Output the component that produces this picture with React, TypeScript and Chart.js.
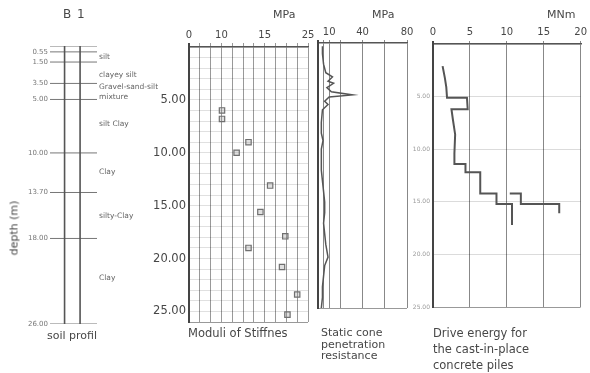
import React, { useEffect, useRef } from 'react';
import { Chart, registerables } from 'chart.js';
Chart.register(...registerables);

const FONT = 'DejaVu Sans';
const INK = '#474747';

// ---- soil profile (B 1) ----
const soilBoundaryDepths = [0, 0.55, 1.5, 3.5, 5.0, 10.0, 13.7, 18.0, 26.0];
const soilBoundaryLabels = ['', '0.55', '1.50', '3.50', '5.00', '10.00', '13.70', '18.00', '26.00'];
const soilLayerNames = ['silt', 'clayey silt', 'Gravel-sand-silt', 'mixture', 'silt Clay', 'Clay', 'silty-Clay', 'Clay'];
const soilLayerNameDepths = [1.05, 2.75, 3.85, 4.8, 7.3, 11.8, 15.9, 21.7];

// ---- moduli of stiffness ----
const modTickLabels = ['0', '', '', '10', '', '', '', '15', '', '', '', '25'];
const modDepths = [6.0, 6.8, 9.0, 10.0, 13.1, 15.6, 17.9, 19.0, 20.8, 23.4, 25.3];
const modValues = [3.05, 3.05, 5.5, 4.4, 7.5, 6.6, 8.9, 5.5, 8.6, 10.0, 9.1];

// ---- static cone penetration resistance (MPa) ----
const coneGridValues = [0, 5, 10, 20, 40, 60, 80];
const coneTickLabels = ['', '', '10', '', '40', '', '80'];
const coneDepths = [0.3, 1.0, 2.0, 2.8, 3.2, 3.6, 3.8, 4.2, 4.6, 4.9, 5.1, 5.5, 5.8, 6.3, 7.5, 8.5, 9.2, 10, 11, 12, 13, 14, 15, 16, 17, 18, 19, 20.2, 21, 22, 23, 24, 25];
const coneValues = [4, 4, 5, 7, 13, 9, 14, 8, 12, 31, 10, 6, 9, 4, 3, 3, 4.5, 3, 3, 3, 4, 5, 6, 6, 5, 6, 7, 9, 6, 5, 4, 4, 3];

// ---- drive energy (MNm) ----
const driveDepthsA = [2.1, 3.2, 4.1, 5.1, 5.1, 6.2, 6.2, 7.2, 8.6, 10.4, 11.4, 11.4, 12.2, 12.2, 14.2, 14.2, 15.2, 15.2, 17.2];
const driveEnergyA = [1.3, 1.6, 1.8, 1.9, 4.6, 4.7, 2.5, 2.7, 3.0, 2.9, 2.9, 4.4, 4.4, 6.4, 6.4, 8.6, 8.6, 10.7, 10.7];
const driveDepthsB = [14.2, 14.2, 15.2, 15.2, 16.1];
const driveEnergyB = [10.4, 11.9, 11.9, 17.1, 17.1];

const pts = (xs: number[], ys: number[]) => xs.map((x, i) => ({ x, y: ys[i] }));

const soilTextPlugin = {
  id: 'soilText',
  afterDatasetsDraw(chart: any) {
    const { ctx } = chart;
    const x = chart.scales.x;
    const y = chart.scales.y;
    ctx.save();
    ctx.fillStyle = '#777';
    ctx.textBaseline = 'middle';
    ctx.font = `7px ${FONT}`;
    ctx.textAlign = 'right';
    soilBoundaryDepths.forEach((d, i) => {
      ctx.fillText(soilBoundaryLabels[i], x.getPixelForValue(0) - 2, y.getPixelForValue(d));
    });
    ctx.textAlign = 'left';
    ctx.font = `7.5px ${FONT}`;
    ctx.fillStyle = '#666';
    soilLayerNames.forEach((n, i) => {
      ctx.fillText(n, x.getPixelForValue(1) + 2, y.getPixelForValue(soilLayerNameDepths[i]));
    });
    ctx.restore();
  },
};

const Txt = (p: { l: number; t: number; s: number; lh?: number; children: any; style?: any }) => (
  <div
    style={{
      position: 'absolute', left: p.l, top: p.t, fontSize: p.s, lineHeight: (p.lh ?? p.s + 2) + 'px',
      fontFamily: FONT, color: INK, whiteSpace: 'pre', ...p.style,
    }}
  >
    {p.children}
  </div>
);

export default function App() {
  const soilRef = useRef<HTMLCanvasElement>(null);
  const modRef = useRef<HTMLCanvasElement>(null);
  const coneRef = useRef<HTMLCanvasElement>(null);
  const driveRef = useRef<HTMLCanvasElement>(null);

  useEffect(() => {
    Chart.defaults.font.family = FONT;
    Chart.defaults.color = INK;
    const noPlug = { legend: { display: false }, tooltip: { enabled: false } };
    const charts: Chart[] = [];

    // soil profile
    charts.push(new Chart(soilRef.current!, {
      type: 'scatter',
      data: {
        datasets: [
          { data: [{ x: 0.31, y: 0 }, { x: 0.31, y: 26 }], showLine: true, borderColor: '#555', borderWidth: 1.6, pointRadius: 0 },
          { data: [{ x: 0.64, y: 0 }, { x: 0.64, y: 26 }], showLine: true, borderColor: '#555', borderWidth: 1.6, pointRadius: 0 },
          ...soilBoundaryDepths.map((d) => ({
            data: [{ x: 0, y: d }, { x: 1, y: d }], showLine: true, borderColor: '#777', borderWidth: 1, pointRadius: 0,
          })),
        ],
      } as any,
      options: {
        animation: false, responsive: false,
        layout: { padding: { left: 50, right: 83, top: 46, bottom: 49 } },
        scales: { x: { display: false, min: 0, max: 1 }, y: { display: false, min: 0, max: 26, reverse: true } },
        plugins: noPlug as any,
      },
      plugins: [soilTextPlugin],
    }));

    // moduli
    charts.push(new Chart(modRef.current!, {
      type: 'scatter',
      data: {
        datasets: [{
          data: pts(modValues, modDepths), pointStyle: 'rect', pointRadius: 3.8,
          borderColor: '#707070', borderWidth: 1.2, backgroundColor: 'rgba(150,150,150,0.3)',
        }],
      },
      options: {
        animation: false, responsive: false,
        layout: { padding: { left: 0, right: 12, top: 0, bottom: 51 } },
        scales: {
          x: {
            position: 'top', min: 0, max: 11,
            afterFit: (s: any) => { s.height = 47; },
            ticks: { stepSize: 1, autoSkip: false, maxRotation: 0, padding: 2, font: { size: 10 }, color: INK,
              callback: (v: any) => modTickLabels[Math.round(v)] ?? '' },
            grid: {
              color: (c: any) => (c.tick && c.tick.value === 0 ? '#444' : '#999'),
              lineWidth: (c: any) => (c.tick && c.tick.value === 0 ? 2 : 1),
              tickLength: 4,
            },
            border: { display: true, color: '#555', width: 1.5 },
          },
          y: {
            min: 0, max: 26, reverse: true,
            afterFit: (s: any) => { s.width = 49; },
            ticks: { stepSize: 1, autoSkip: false, padding: 3, font: { size: 11.5 }, color: INK,
              callback: (v: any) => (v > 0 && v % 5 === 0 ? Number(v).toFixed(2) : '') },
            grid: {
              drawTicks: false,
              color: (c: any) => (c.tick && c.tick.value === 26 ? '#999' : 'rgba(0,0,0,0.12)'),
            },
            border: { display: true, color: '#444', width: 2 },
          },
        },
        plugins: noPlug as any,
      },
    }));

    // cone penetration
    charts.push(new Chart(coneRef.current!, {
      type: 'scatter',
      data: {
        datasets: [{
          data: pts(coneValues, coneDepths), showLine: true, borderColor: '#555', borderWidth: 1.5, pointRadius: 0,
        }],
      },
      options: {
        animation: false, responsive: false,
        layout: { padding: { left: 8, right: 13, top: 0, bottom: 65 } },
        scales: {
          x: {
            position: 'top', min: 0, max: 80,
            afterFit: (s: any) => { s.height = 43; },
            afterBuildTicks: (s: any) => { s.ticks = coneGridValues.map((v) => ({ value: v })); },
            ticks: { autoSkip: false, maxRotation: 0, padding: 2, font: { size: 10 }, color: INK,
              callback: (v: any) => coneTickLabels[coneGridValues.indexOf(Number(v))] ?? '' },
            grid: { color: (c: any) => (c.tick && c.tick.value === 0 ? '#444' : '#888'),
              lineWidth: (c: any) => (c.tick && c.tick.value === 0 ? 2 : 1), tickLength: 3 },
            border: { display: true, color: '#555', width: 1.5 },
          },
          y: {
            min: 0, max: 25, reverse: true,
            afterFit: (s: any) => { s.width = 0; },
            ticks: { display: false, stepSize: 25 },
            grid: { drawTicks: false, color: (c: any) => (c.tick && c.tick.value === 25 ? '#999' : 'rgba(0,0,0,0)') },
            border: { display: true, color: '#444', width: 2 },
          },
        },
        plugins: noPlug as any,
      },
    }));

    // drive energy
    charts.push(new Chart(driveRef.current!, {
      type: 'scatter',
      data: {
        datasets: [
          { data: pts(driveEnergyA, driveDepthsA), showLine: true, borderColor: '#555', borderWidth: 2, pointRadius: 0 },
          { data: pts(driveEnergyB, driveDepthsB), showLine: true, borderColor: '#555', borderWidth: 2, pointRadius: 0 },
        ],
      },
      options: {
        animation: false, responsive: false,
        layout: { padding: { left: 0, right: 5, top: 0, bottom: 66 } },
        scales: {
          x: {
            position: 'top', min: 0, max: 20,
            afterFit: (s: any) => { s.height = 44; },
            ticks: { stepSize: 5, autoSkip: false, maxRotation: 0, padding: 3, font: { size: 10 }, color: INK },
            grid: { color: (c: any) => (c.tick && c.tick.value === 0 ? '#444' : '#888'),
              lineWidth: (c: any) => (c.tick && c.tick.value === 0 ? 2 : 1), tickLength: 3 },
            border: { display: true, color: '#555', width: 1.5 },
          },
          y: {
            min: 0, max: 25, reverse: true,
            afterFit: (s: any) => { s.width = 33; },
            ticks: { stepSize: 5, padding: 3, font: { size: 6 }, color: '#999',
              callback: (v: any) => (v > 0 ? Number(v).toFixed(2) : '') },
            grid: { drawTicks: false,
              color: (c: any) => (c.tick && c.tick.value === 25 ? '#999' : 'rgba(0,0,0,0.14)') },
            border: { display: true, color: '#444', width: 2 },
          },
        },
        plugins: noPlug as any,
      },
    }));

    return () => charts.forEach((c) => c.destroy());
  }, []);

  const cv = (l: number, w: number): any => ({ position: 'absolute', left: l, top: 0, width: w, height: 373 });

  return (
    <div style={{ position: 'absolute', left: 0, top: 0, width: 590, height: 373, background: '#fff', overflow: 'hidden' }}>
      <canvas ref={modRef} width={180} height={373} style={cv(140, 180)} />
      <canvas ref={coneRef} width={110} height={373} style={cv(310, 110)} />
      <canvas ref={driveRef} width={190} height={373} style={cv(400, 190)} />
      <canvas ref={soilRef} width={180} height={373} style={cv(0, 180)} />
      <Txt l={63} t={7} s={12} style={{ letterSpacing: '1px' }}>B 1</Txt>
      <div style={{ position: 'absolute', left: 14, top: 228, transform: 'translate(-50%,-50%) rotate(-90deg)', fontFamily: FONT, fontSize: 11, color: INK, whiteSpace: 'pre' }}>depth (m)</div>
      <Txt l={47} t={329} s={11}>soil profil</Txt>
      <Txt l={273} t={8} s={11}>MPa</Txt>
      <Txt l={372} t={8} s={11}>MPa</Txt>
      <Txt l={547} t={8} s={11}>MNm</Txt>
      <Txt l={188} t={327} s={11.5}>Moduli of Stiffnes</Txt>
      <Txt l={321} t={327} s={11} lh={11.5}>{'Static cone\npenetration\nresistance'}</Txt>
      <Txt l={433} t={325} s={11.5} lh={16}>{'Drive energy for\nthe cast-in-place\nconcrete piles'}</Txt>
    </div>
  );
}
